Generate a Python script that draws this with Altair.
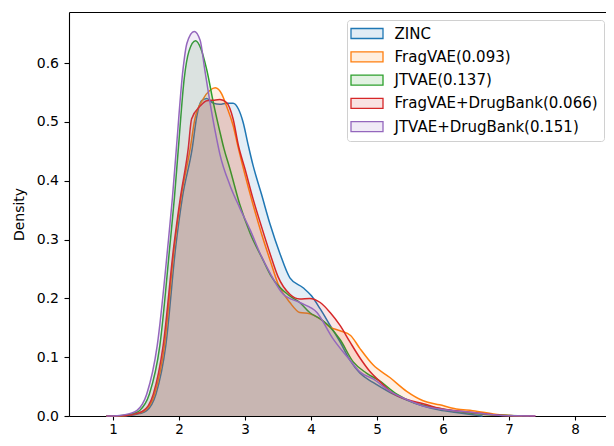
import altair as alt
import pandas as pd

# Series names (legend order)
names = ["ZINC", "FragVAE(0.093)", "JTVAE(0.137)", "FragVAE+DrugBank(0.066)", "JTVAE+DrugBank(0.151)"]
colors = ["#1f77b4", "#ff7f0e", "#2ca02c", "#d62728", "#9467bd"]

# Density curves (x, density)
zinc_x = [0.9, 1.25, 1.4, 1.51, 1.65, 1.80, 1.95, 2.05, 2.2, 2.27, 2.34, 2.42, 2.52, 2.62, 2.72, 2.82, 2.9, 2.97,
          3.05, 3.12, 3.25, 3.38, 3.53, 3.68, 3.88, 4.01, 4.14, 4.29, 4.44, 4.59, 4.74, 4.94, 5.2, 5.45, 5.7, 5.95,
          6.2, 6.6]
zinc_d = [0.0, 0.001, 0.004, 0.009, 0.037, 0.12, 0.288, 0.371, 0.455, 0.51, 0.536, 0.54, 0.532, 0.53, 0.532, 0.532,
          0.522, 0.5, 0.46, 0.427, 0.377, 0.326, 0.276, 0.235, 0.218, 0.204, 0.182, 0.154, 0.126, 0.095, 0.073,
          0.057, 0.04, 0.027, 0.017, 0.01, 0.006, 0.0]

frag_x = [0.9, 1.2, 1.36, 1.48, 1.63, 1.78, 1.93, 2.03, 2.17, 2.24, 2.36, 2.47, 2.55, 2.65, 2.72, 2.82, 2.9, 3.0,
          3.12, 3.25, 3.38, 3.5, 3.68, 3.83, 3.98, 4.14, 4.29, 4.44, 4.6, 4.74, 4.94, 5.2, 5.45, 5.7, 5.95, 6.2,
          6.45, 6.86, 7.2]
frag_d = [0.0, 0.001, 0.004, 0.009, 0.037, 0.12, 0.288, 0.371, 0.455, 0.505, 0.538, 0.554, 0.558, 0.547, 0.527,
          0.494, 0.455, 0.41, 0.36, 0.31, 0.265, 0.225, 0.193, 0.176, 0.174, 0.165, 0.151, 0.145, 0.137, 0.115,
          0.087, 0.065, 0.042, 0.026, 0.019, 0.012, 0.009, 0.002, 0.0]

jt_x = [0.9, 1.15, 1.3, 1.4, 1.55, 1.71, 1.86, 1.93, 1.99, 2.08, 2.15, 2.25, 2.33, 2.42, 2.52, 2.62, 2.68, 2.77,
        2.92, 3.08, 3.27, 3.4, 3.68, 3.83, 3.98, 4.14, 4.29, 4.44, 4.64, 4.84, 5.05, 5.3, 5.55, 5.85, 6.2, 6.6, 7.3]
jt_d = [0.0, 0.001, 0.004, 0.009, 0.037, 0.12, 0.288, 0.371, 0.455, 0.575, 0.62, 0.638, 0.625, 0.589, 0.533,
        0.483, 0.455, 0.421, 0.36, 0.31, 0.266, 0.237, 0.204, 0.193, 0.176, 0.165, 0.151, 0.13, 0.092, 0.073,
        0.059, 0.037, 0.023, 0.015, 0.008, 0.003, 0.0]

fragdb_x = [0.9, 1.2, 1.35, 1.46, 1.61, 1.76, 1.92, 2.02, 2.14, 2.19, 2.32, 2.42, 2.52, 2.62, 2.72, 2.82, 2.9, 3.0,
            3.12, 3.25, 3.38, 3.5, 3.68, 3.83, 3.98, 4.14, 4.29, 4.44, 4.59, 4.74, 4.89, 5.05, 5.2, 5.45, 5.7,
            5.95, 6.45, 6.9, 7.4]
fragdb_d = [0.0, 0.001, 0.004, 0.009, 0.037, 0.12, 0.288, 0.371, 0.455, 0.505, 0.527, 0.536, 0.537, 0.538, 0.533,
            0.505, 0.46, 0.42, 0.37, 0.322, 0.276, 0.237, 0.207, 0.199, 0.2, 0.193, 0.176, 0.154, 0.126, 0.099,
            0.076, 0.058, 0.042, 0.028, 0.021, 0.013, 0.006, 0.001, 0.0]

jtdb_x = [0.9, 1.1, 1.25, 1.36, 1.51, 1.67, 1.83, 1.90, 1.96, 2.06, 2.12, 2.23, 2.32, 2.39, 2.47, 2.55, 2.62, 2.77,
          2.92, 3.08, 3.23, 3.38, 3.58, 3.83, 4.09, 4.33, 4.59, 4.74, 4.94, 5.2, 5.45, 5.7, 5.95, 6.45, 6.9, 7.4]
jtdb_d = [0.0, 0.001, 0.004, 0.009, 0.037, 0.12, 0.288, 0.371, 0.455, 0.589, 0.634, 0.654, 0.639, 0.589, 0.533,
          0.483, 0.445, 0.393, 0.354, 0.316, 0.276, 0.243, 0.207, 0.193, 0.176, 0.132, 0.095, 0.075, 0.063, 0.042,
          0.028, 0.017, 0.012, 0.006, 0.001, 0.0]

x_ticks = [1, 2, 3, 4, 5, 6, 7, 8]
y_ticks = [0.0, 0.1, 0.2, 0.3, 0.4, 0.5, 0.6]

series = [(names[0], zinc_x, zinc_d), (names[1], frag_x, frag_d), (names[2], jt_x, jt_d),
          (names[3], fragdb_x, fragdb_d), (names[4], jtdb_x, jtdb_d)]

# fill legend keys carry a trailing space so the fill and stroke legends stay separate
fill_names = [n + " " for n in names]

rows = []
for name, xs, ds in series:
    for xv, dv in zip(xs, ds):
        rows.append({"series": name, "series_fill": name + " ", "x": xv, "density": dv})
df = pd.DataFrame(rows)

FONT = "DejaVu Sans"
FS = 14
LEG_FS = 15
fill_scale = alt.Scale(domain=fill_names, range=colors)
stroke_scale = alt.Scale(domain=names, range=colors)
x_scale = alt.Scale(domain=[0.333, 8.47], nice=False, zero=False)
y_scale = alt.Scale(domain=[0, 0.687], nice=False)

y_axis = alt.Axis(values=y_ticks, format=".1f", title="Density", grid=False)
bottom_axis = alt.Axis(values=x_ticks, format="d", title=None, grid=False)
top_axis = alt.Axis(orient="top", labels=False, ticks=False, title=None, grid=False, domain=True)

SYM = "M-2.372,-0.741H2.372V0.741H-2.372Z"
common_leg = dict(
    title=None, orient="none", legendX=278, legendY=8,
    symbolType=SYM, symbolSize=182, symbolOffset=6.5, symbolStrokeWidth=1.3,
    labelFont=FONT, labelFontSize=LEG_FS, labelOffset=20, labelLimit=400,
    rowPadding=6.3, padding=6,
)
fill_legend = alt.Legend(symbolOpacity=0.13, symbolStrokeColor="transparent", labelOpacity=0,
                         fillColor="#ffffff", strokeColor="transparent", zindex=1, **common_leg)
stroke_legend = alt.Legend(symbolFillColor="transparent", labelColor="#000000",
                           strokeColor="#d0d0d0", cornerRadius=3, zindex=2, **common_leg)

layers = []
for i, name in enumerate(names):
    base = alt.Chart(df).transform_filter(alt.datum.series == name)
    area = base.mark_area(interpolate="monotone", fillOpacity=0.12, strokeWidth=0).encode(
        x=alt.X("x:Q", scale=x_scale, axis=bottom_axis if i == 0 else None),
        y=alt.Y("density:Q", scale=y_scale, axis=y_axis),
        fill=alt.Fill("series_fill:N", scale=fill_scale, legend=fill_legend),
    )
    line = base.mark_line(interpolate="monotone", strokeWidth=1.5).encode(
        x=alt.X("x:Q", scale=x_scale, axis=top_axis if i == 0 else None),
        y=alt.Y("density:Q", scale=y_scale, axis=y_axis),
        stroke=alt.Stroke("series:N", scale=stroke_scale, legend=stroke_legend),
    )
    layers += [area, line]

chart = alt.layer(*layers).resolve_axis(x="independent").properties(
    width=537, height=404,
    autosize=alt.AutoSizeParams(type="none"),
    padding={"left": 61, "top": 4, "right": 0, "bottom": 22},
).configure_view(
    stroke=None
).configure_axis(
    labelFont=FONT, titleFont=FONT, labelFontSize=FS, titleFontSize=FS,
    titleFontWeight="normal", labelColor="#000000", titleColor="#000000",
    domainColor="#000000", tickColor="#000000", domainWidth=1.1, tickWidth=1.1,
).configure_axisY(
    tickSize=5, labelPadding=5.5, titlePadding=9.5
).configure_axisX(
    tickSize=4, labelPadding=2, labelFontSize=13.5
)

chart.save("out.html", embed_options={"renderer": "svg", "actions": False})
